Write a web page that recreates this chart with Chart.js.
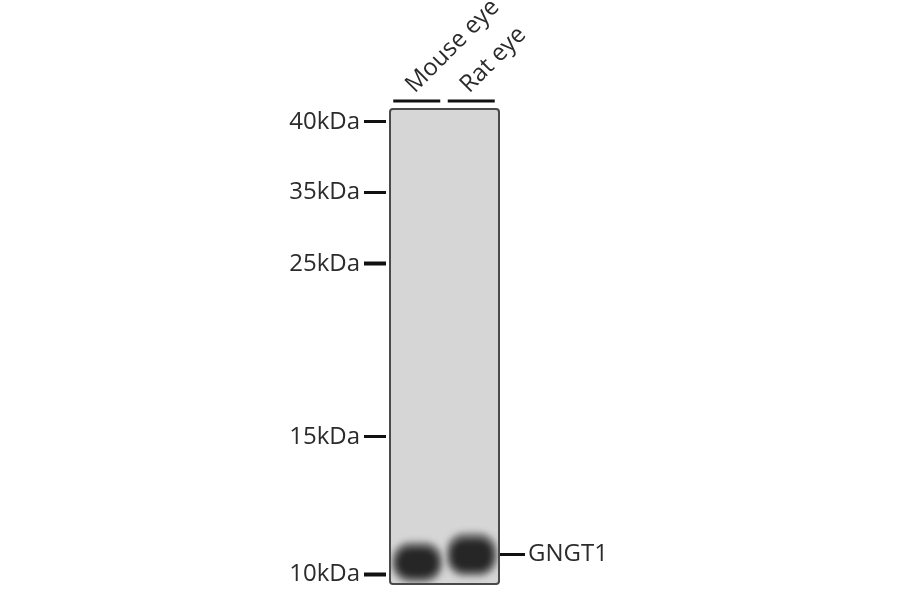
<!DOCTYPE html>
<html>
<head>
<meta charset="utf-8">
<style>
  html, body { margin: 0; background: #fff; }
  canvas { display: block; filter: blur(0.4px); }
</style>
<script src="https://cdn.jsdelivr.net/npm/chart.js@4"></script>
</head>
<body>
<canvas id="blot" width="900" height="594"></canvas>
<script>
// lanes and target band
const lanes = ['Mouse eye', 'Rat eye'];
const bandTop = [92.5, 90.7];
const bandBottom = [98.5, 97.2];
const haloTop = [91.2, 89.3];
const haloBottom = [99.6, 98.3];
const target = 'GNGT1';
const targetMigration = [93.8];

// ladder, read as % of the way down the membrane
const markerLabels = ['40kDa', '35kDa', '25kDa', '15kDa', '10kDa'];
const markerMigration = [2.7, 17.6, 32.6, 69.0, 97.9];
const markerWidths = [3, 3, 4, 3, 4];

const labelFont = { family: '"Open Sans"', size: 24 };

// membrane background + lane bars
const membrane = {
  id: 'membrane',
  beforeDatasetsDraw(chart) {
    const { ctx, chartArea: a } = chart;
    ctx.save();
    ctx.fillStyle = '#d6d6d6';
    ctx.beginPath();
    ctx.roundRect(a.left, a.top, a.width, a.height, 3);
    ctx.fill();
    ctx.restore();
  },
  afterDatasetsDraw(chart) {
    const { ctx, chartArea: a, scales } = chart;
    ctx.save();
    ctx.strokeStyle = '#4a4a4a';
    ctx.lineWidth = 2;
    ctx.beginPath();
    ctx.roundRect(a.left, a.top, a.width, a.height, 3);
    ctx.stroke();
    ctx.strokeStyle = '#111';
    ctx.lineWidth = 3;
    lanes.forEach((l, i) => {
      const c = scales.x.getPixelForValue(i);
      ctx.beginPath();
      ctx.moveTo(c - 24, 101);
      ctx.lineTo(c + 23, 101);
      ctx.stroke();
    });
    ctx.restore();
  },
  beforeDatasetDraw(chart) {
    chart.ctx.save();
    chart.ctx.filter = 'blur(3px)';
  },
  afterDatasetDraw(chart) {
    chart.ctx.restore();
  }
};

new Chart(document.getElementById('blot'), {
  type: 'bar',
  data: {
    labels: lanes,
    datasets: [
      {
        data: lanes.map((l, i) => [bandTop[i], bandBottom[i]]),
        backgroundColor: '#262626',
        barThickness: 41,
        borderRadius: 14,
        borderSkipped: false
      },
      {
        data: lanes.map((l, i) => [haloTop[i], haloBottom[i]]),
        backgroundColor: '#7a7a7a',
        barThickness: 50,
        borderRadius: 18,
        borderSkipped: false
      }
    ]
  },
  plugins: [membrane],
  options: {
    responsive: false,
    animation: false,
    grouped: false,
    layout: { padding: { bottom: 10 } },
    plugins: { legend: { display: false }, tooltip: { enabled: false } },
    scales: {
      x: {
        position: 'top',
        afterFit(s) { s.height = 109; s.paddingLeft = 0; s.paddingRight = 0; },
        grid: { display: false, drawTicks: false },
        border: { display: false },
        ticks: {
          autoSkip: false,
          minRotation: 45,
          maxRotation: 45,
          padding: 10,
          labelOffset: 13,
          color: '#2b2b2b',
          font: labelFont
        }
      },
      y: {
        min: 0,
        max: 100,
        reverse: true,
        afterFit(s) { s.width = 390; s.paddingTop = 0; s.paddingBottom = 0; },
        afterBuildTicks(s) { s.ticks = markerMigration.map(v => ({ value: v })); },
        grid: {
          drawOnChartArea: false,
          tickLength: 26,
          tickColor: '#111',
          tickWidth: c => markerWidths[c.index],
          tickBorderDash: [22, 10]
        },
        border: { display: false },
        ticks: {
          autoSkip: false,
          padding: 4,
          color: '#2b2b2b',
          font: labelFont,
          callback: (v, i) => markerLabels[i]
        }
      },
      target: {
        position: 'right',
        min: 0,
        max: 100,
        reverse: true,
        afterFit(s) { s.width = 401; s.paddingTop = 0; s.paddingBottom = 0; },
        afterBuildTicks(s) { s.ticks = targetMigration.map(v => ({ value: v })); },
        grid: {
          drawOnChartArea: false,
          tickLength: 26,
          tickColor: '#111',
          tickWidth: 3
        },
        border: { display: false },
        ticks: {
          autoSkip: false,
          padding: 3,
          color: '#2b2b2b',
          font: labelFont,
          callback: () => target
        }
      }
    }
  }
});
</script>
</body>
</html>
